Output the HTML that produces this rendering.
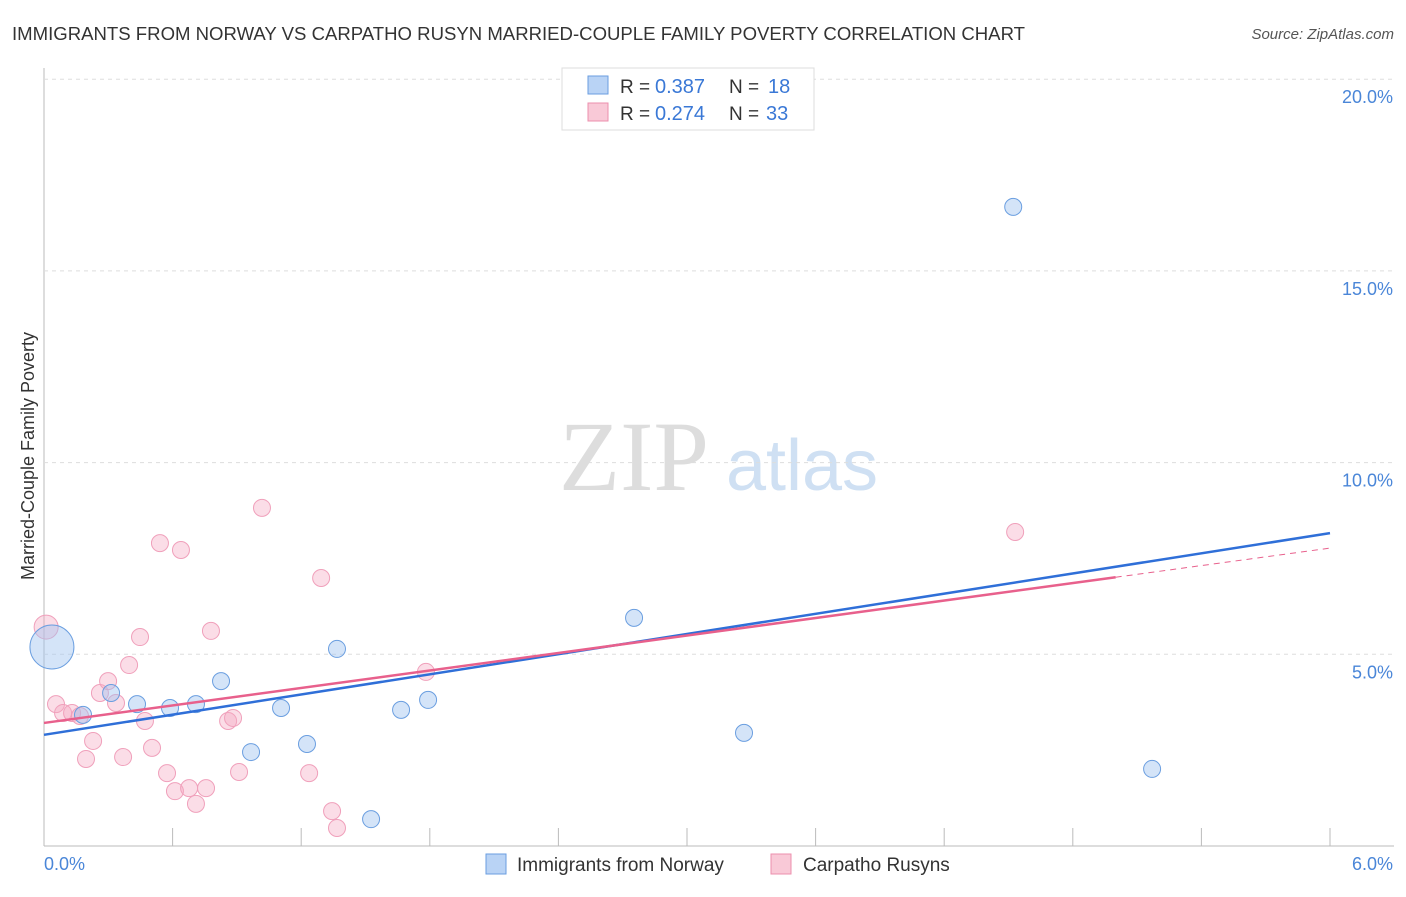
<!DOCTYPE html>
<html><head><meta charset="utf-8"><style>
body{margin:0;background:#fff;font-family:"Liberation Sans",sans-serif;}
svg text{font-family:"Liberation Sans",sans-serif;}
</style></head><body>
<svg id="c" width="1406" height="892">
<text x="12" y="40" font-size="18" fill="#333" textLength="1013" lengthAdjust="spacingAndGlyphs">IMMIGRANTS FROM NORWAY VS CARPATHO RUSYN MARRIED-COUPLE FAMILY POVERTY CORRELATION CHART</text>
<text x="1394" y="39" font-size="15" fill="#555" text-anchor="end" font-style="italic">Source: ZipAtlas.com</text>
<g><text x="634" y="490" font-size="100" fill="#ddd" text-anchor="middle" style="font-family:'Liberation Serif',serif">ZIP</text><text x="802" y="490" font-size="72" fill="#cfe0f3" text-anchor="middle">atlas</text></g>
<text transform="translate(34,456) rotate(-90)" font-size="18" fill="#333" text-anchor="middle">Married-Couple Family Poverty</text>
<g id="grid"></g><g id="pts"></g><g id="lines"></g>
<g>
<rect x="562" y="68" width="252" height="62" fill="#fff" stroke="#ddd"/>
<rect x="588" y="76" width="20" height="18" fill="#b9d3f5" stroke="#6a9ee0"/>
<rect x="588" y="103" width="20" height="18" fill="#f9c9d7" stroke="#ec8fae"/>
<text x="620" y="93" font-size="19" fill="#333">R =</text><text x="655" y="93" font-size="20" fill="#3a78d6">0.387</text>
<text x="729" y="93" font-size="19" fill="#333">N =</text><text x="768" y="93" font-size="20" fill="#3a78d6">18</text>
<text x="620" y="120" font-size="19" fill="#333">R =</text><text x="655" y="120" font-size="20" fill="#3a78d6">0.274</text>
<text x="729" y="120" font-size="19" fill="#333">N =</text><text x="766" y="120" font-size="20" fill="#3a78d6">33</text>
</g>
<g>
<rect x="486" y="854" width="20" height="20" fill="#b9d3f5" stroke="#6a9ee0"/>
<text x="517" y="871" font-size="19" fill="#333">Immigrants from Norway</text>
<rect x="771" y="854" width="20" height="20" fill="#f9c9d7" stroke="#ec8fae"/>
<text x="803" y="871" font-size="19" fill="#333">Carpatho Rusyns</text>
</g>
</svg>
<script>
const yTicks=[5,10,15,20];
const yTickLabels=["5.0%","10.0%","15.0%","20.0%"];
const xTickLabels=["0.0%","6.0%"];
const norwayX=[0.037,0.182,0.313,0.434,0.588,0.709,0.826,0.966,1.106,1.227,1.367,1.526,1.666,1.792,2.753,3.266,4.522,5.170];
const norwayY=[5.19,3.42,3.99,3.70,3.60,3.70,4.30,2.45,3.60,2.66,5.14,0.70,3.55,3.81,5.95,2.95,16.67,2.01];
const rusynX=[0.01,0.056,0.089,0.131,0.168,0.196,0.229,0.261,0.299,0.336,0.369,0.397,0.448,0.471,0.504,0.541,0.574,0.611,0.639,0.677,0.709,0.756,0.779,0.859,0.882,0.910,1.017,1.237,1.293,1.344,1.367,1.782,4.531];
const rusynY=[5.71,3.70,3.47,3.47,3.39,2.27,2.74,3.99,4.30,3.73,2.32,4.72,5.45,3.26,2.56,7.90,1.90,1.43,7.72,1.51,1.10,1.51,5.61,3.26,3.34,1.93,8.82,1.90,6.99,0.91,0.47,4.54,8.19];
const norwayTrend=[2.90,8.16];
const rusynTrend=[3.21,7.77];
const NS="http://www.w3.org/2000/svg";
const xs=v=>44+v/6*1286, ys=v=>846-v/5*191.7;
function mk(t,a,p){const e=document.createElementNS(NS,t);for(const k in a)e.setAttribute(k,a[k]);p.appendChild(e);return e;}
const g=document.getElementById('grid');
let ax=mk('line',{x1:44,y1:68,x2:44,y2:846,stroke:'#bbb'},g);


let bx=mk('line',{x1:44,y1:846,x2:1394,y2:846,stroke:'#bbb'},g);


for(let i=1;i<=10;i++){const x=44+i*128.6;const t=mk('line',{x1:x,y1:828,x2:x,y2:846,stroke:'#bbb'},g);

}
yTicks.forEach((v,i)=>{const l=mk('line',{x1:44,y1:ys(v),x2:1394,y2:ys(v),stroke:'#ddd','stroke-dasharray':'4,4'},g);


const t=mk('text',{x:1393,y:ys(v)+24,'font-size':18,fill:'#4a86d8','text-anchor':'end'},g);t.textContent=yTickLabels[i];

});
[[0,'start',44],[1,'end',1393]].forEach(([i,a,x])=>{const t=mk('text',{x:x,y:870,'font-size':18,fill:'#4a86d8','text-anchor':a},g);t.textContent=xTickLabels[i];

});
const P=document.getElementById('pts');
rusynX.forEach((v,i)=>{const c=mk('circle',{cx:xs(v),cy:ys(rusynY[i]),r:i==0?12:8.5,fill:'rgba(246,170,195,0.4)',stroke:'#f0a0bb','stroke-width':1},P);

});
norwayX.forEach((v,i)=>{const c=mk('circle',{cx:xs(v),cy:ys(norwayY[i]),r:i==0?22:8.5,fill:'rgba(160,195,240,0.45)',stroke:'#6a9ee0','stroke-width':1},P);

});
const L=document.getElementById('lines');
let b=mk('line',{x1:xs(0),y1:ys(norwayTrend[0]),x2:xs(6),y2:ys(norwayTrend[1]),stroke:'#2f6fd8','stroke-width':2.5},L);


const r5=rusynTrend[0]+(rusynTrend[1]-rusynTrend[0])*5/6;
let p=mk('line',{x1:xs(0),y1:ys(rusynTrend[0]),x2:xs(5),y2:ys(r5),stroke:'#e8608c','stroke-width':2.5},L);


let pd=mk('line',{x1:xs(5),y1:ys(r5),x2:xs(6),y2:ys(rusynTrend[1]),stroke:'#e8608c','stroke-width':1,'stroke-dasharray':'6,5'},L);


</script>
</body></html>
